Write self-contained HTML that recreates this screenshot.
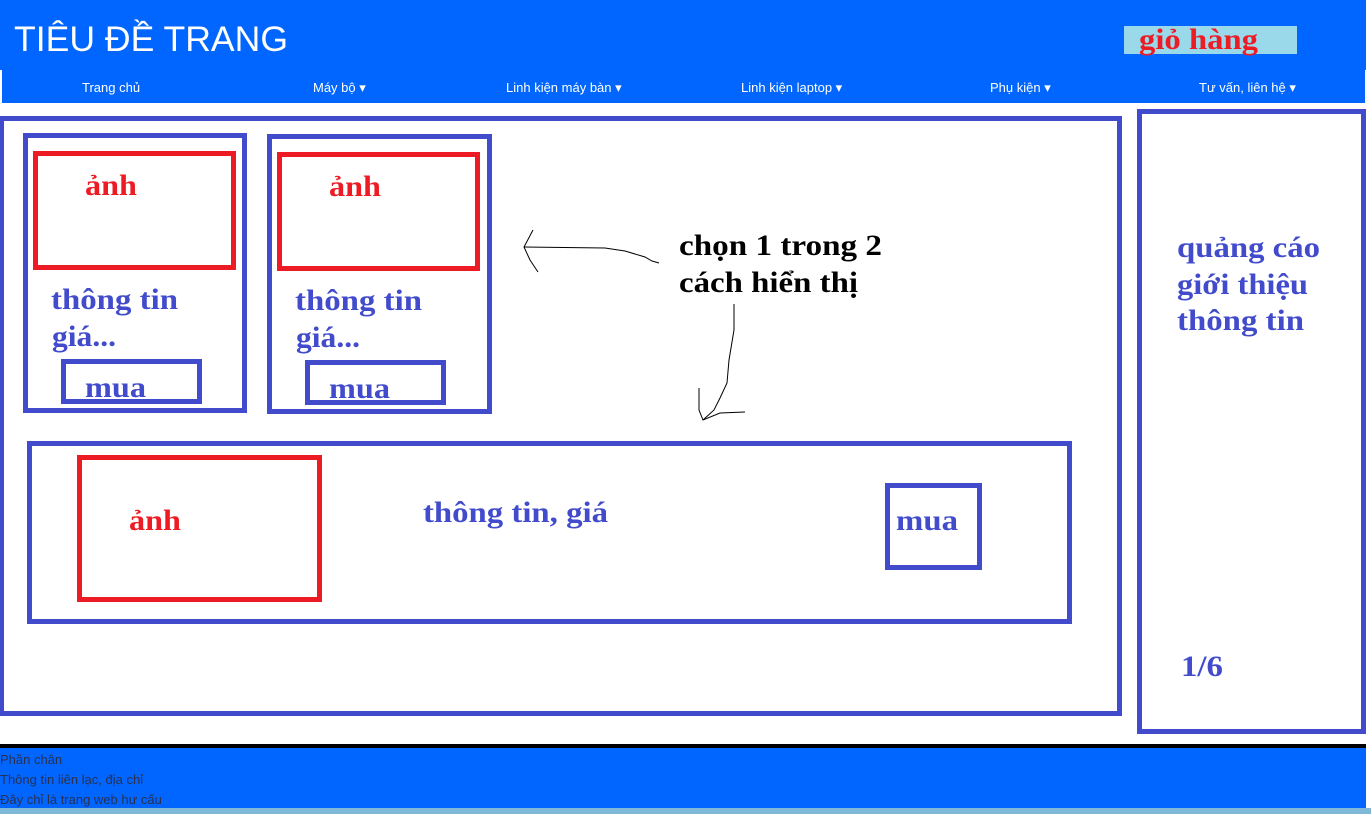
<!DOCTYPE html>
<html><head><meta charset="utf-8"><style>
html,body{margin:0;padding:0;background:#fff;width:1371px;height:814px;overflow:hidden}
svg{display:block}
</style></head><body>
<svg width="1371" height="814" viewBox="0 0 1371 814" xmlns="http://www.w3.org/2000/svg">
<rect x="0" y="0" width="1366" height="70" fill="#0066ff"/>
<rect x="2" y="70" width="1363" height="33" fill="#0066ff"/>
<text x="14" y="51" font-family="Liberation Sans, sans-serif" font-size="35" fill="#fff" textLength="274" lengthAdjust="spacingAndGlyphs">TIÊU ĐỀ TRANG</text>
<rect x="1124" y="26" width="173" height="28" fill="#99d9ea"/>
<text x="1139" y="49" font-family="Liberation Serif, serif" font-weight="bold" font-size="30" fill="#ed1c24" textLength="119" lengthAdjust="spacingAndGlyphs">giỏ hàng</text>
<g font-family="Liberation Sans, sans-serif" font-size="13" fill="#fff">
<text x="82" y="92">Trang chủ</text>
<text x="313" y="92">Máy bộ ▾</text>
<text x="506" y="92">Linh kiện máy bàn ▾</text>
<text x="741" y="92">Linh kiện laptop ▾</text>
<text x="990" y="92">Phụ kiện ▾</text>
<text x="1199" y="92">Tư vấn, liên hệ ▾</text>
</g>
<g fill="none" stroke="#414bcc" stroke-width="5">
<rect x="1.5" y="118.5" width="1118" height="595"/>
<rect x="1139.5" y="111.5" width="224" height="620"/>
<rect x="25.5" y="135.5" width="219" height="275"/>
<rect x="269.5" y="136.5" width="220" height="275"/>
<rect x="63.5" y="361.5" width="136" height="40"/>
<rect x="307.5" y="362.5" width="136" height="40"/>
<rect x="29.5" y="443.5" width="1040" height="178"/>
<rect x="887.5" y="485.5" width="92" height="82"/>
</g>
<g fill="none" stroke="#ed1c24" stroke-width="5">
<rect x="35.5" y="153.5" width="198" height="114"/>
<rect x="279.5" y="154.5" width="198" height="114"/>
<rect x="79.5" y="457.5" width="240" height="142"/>
</g>
<g font-family="Liberation Serif, serif" font-weight="bold" font-size="30" lengthAdjust="spacingAndGlyphs">
<text x="85" y="195" fill="#ed1c24" textLength="52" lengthAdjust="spacingAndGlyphs">ảnh</text>
<text x="329" y="196" fill="#ed1c24" textLength="52" lengthAdjust="spacingAndGlyphs">ảnh</text>
<text x="129" y="530" fill="#ed1c24" textLength="52" lengthAdjust="spacingAndGlyphs">ảnh</text>
<g fill="#414bcc">
<text x="51" y="309" textLength="127" lengthAdjust="spacingAndGlyphs">thông tin</text>
<text x="52" y="346" textLength="64" lengthAdjust="spacingAndGlyphs">giá...</text>
<text x="295" y="310" textLength="127" lengthAdjust="spacingAndGlyphs">thông tin</text>
<text x="296" y="347" textLength="64" lengthAdjust="spacingAndGlyphs">giá...</text>
<text x="85" y="397" textLength="61" lengthAdjust="spacingAndGlyphs">mua</text>
<text x="329" y="398" textLength="61" lengthAdjust="spacingAndGlyphs">mua</text>
<text x="423" y="522" textLength="185" lengthAdjust="spacingAndGlyphs">thông tin, giá</text>
<text x="896" y="530" textLength="62" lengthAdjust="spacingAndGlyphs">mua</text>
<text x="1177" y="257" textLength="143" lengthAdjust="spacingAndGlyphs">quảng cáo</text>
<text x="1177" y="294" textLength="131" lengthAdjust="spacingAndGlyphs">giới thiệu</text>
<text x="1177" y="330" textLength="127" lengthAdjust="spacingAndGlyphs">thông tin</text>
<text x="1181" y="676" textLength="42" lengthAdjust="spacingAndGlyphs">1/6</text>
</g>
<g fill="#000">
<text x="679" y="255" textLength="203" lengthAdjust="spacingAndGlyphs">chọn 1 trong 2</text>
<text x="679" y="292" textLength="179" lengthAdjust="spacingAndGlyphs">cách hiển thị</text>
</g>
</g>
<g fill="none" stroke="#000" stroke-width="1">
<path d="M659 263 L652 261 L645 257 L625 251 L605 248 L524 247"/>
<path d="M533 230 L524 247 L530 260 L538 272"/>
<path d="M734 304 L734 330 L729 360 L727 383 L720 398 L714 410 L703 420"/>
<path d="M699 388 L699 410 L703 420 L720 413 L745 412"/>
</g>
<rect x="0" y="744" width="1366" height="4" fill="#000"/>
<rect x="0" y="748" width="1366" height="60" fill="#0066ff"/>
<g font-family="Liberation Sans, sans-serif" font-size="13" fill="#2a3050">
<text x="0" y="764">Phần chân</text>
<text x="0" y="784">Thông tin liên lạc, địa chỉ</text>
<text x="0" y="804">Đây chỉ là trang web hư cấu</text>
</g>
<rect x="0" y="808" width="1371" height="6" fill="#7fb8d8"/>
</svg>
</body></html>
